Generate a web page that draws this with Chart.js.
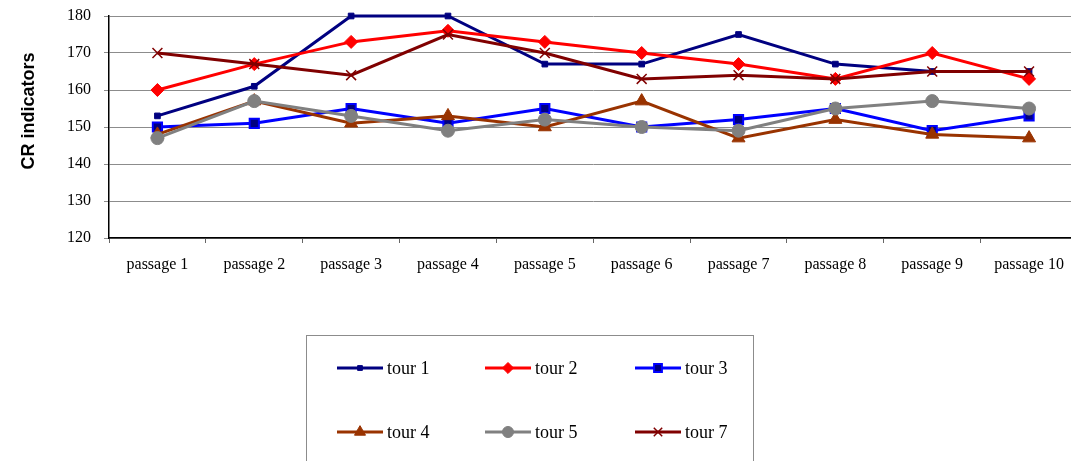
<!DOCTYPE html>
<html>
<head>
<meta charset="utf-8">
<script src="https://cdn.jsdelivr.net/npm/chart.js@4/dist/chart.umd.min.js"></script>
<style>
  html, body { margin: 0; padding: 0; background: #fff; overflow: hidden; }
  canvas { display: block; }
</style>
</head>
<body>
<canvas id="chart" width="1086" height="461"></canvas>
<script>
const passages = ['passage 1', 'passage 2', 'passage 3', 'passage 4', 'passage 5',
                  'passage 6', 'passage 7', 'passage 8', 'passage 9', 'passage 10'];

const tour1 = [153, 161, 180, 180, 167, 167, 175, 167, 165, 165];
const tour2 = [160, 167, 173, 176, 173, 170, 167, 163, 170, 163];
const tour3 = [150, 151, 155, 151, 155, 150, 152, 155, 149, 153];
const tour4 = [148, 157, 151, 153, 150, 157, 147, 152, 148, 147];
const tour5 = [147, 157, 153, 149, 152, 150, 149, 155, 157, 155];
const tour7 = [170, 167, 164, 175, 170, 163, 164, 163, 165, 165];

const yTitle = 'CR indicators';

function series(label, data, color, style, radius, fill, order) {
    return {
        label: label,
        data: data,
        borderColor: color,
        borderWidth: 3,
        pointStyle: style,
        pointRadius: radius,
        pointHoverRadius: radius,
        pointBackgroundColor: fill || color,
        pointBorderColor: color,
        pointBorderWidth: style === 'crossRot' ? 1.5 : 1,
        tension: 0,
        clip: false,
        order: order
    };
}

const datasets = [
    series('tour 1', tour1, '#000080', 'rect', 4, null, 6),
    series('tour 2', tour2, '#ff0000', 'rectRot', 6.5, null, 5),
    series('tour 3', tour3, '#0000ff', 'rect', 6.5, '#000080', 4),
    series('tour 4', tour4, '#993300', 'triangle', 7.5, null, 3),
    series('tour 5', tour5, '#808080', 'circle', 6.5, null, 2),
    series('tour 7', tour7, '#800000', 'crossRot', 7, null, 1)
];
datasets[2].pointBorderWidth = 2;

// y title and boxed legend, Excel style
const extras = {
    id: 'extras',
    afterDraw(chart) {
        const ctx = chart.ctx;
        ctx.save();
        ctx.fillStyle = '#000';
        ctx.font = 'bold 18px "Liberation Sans", Arial, sans-serif';
        ctx.textAlign = 'center';
        ctx.textBaseline = 'middle';
        ctx.translate(29, 111);
        ctx.rotate(-Math.PI / 2);
        ctx.fillText(yTitle, 0, 0);
        ctx.restore();

        ctx.save();
        ctx.strokeStyle = '#8c8c8c';
        ctx.lineWidth = 1;
        ctx.strokeRect(306.5, 335.5, 447, 140);

        const cols = [337, 485, 635];
        const rows = [368, 432];
        ctx.font = '18px "Liberation Serif", "Times New Roman", serif';
        ctx.textBaseline = 'middle';
        ctx.textAlign = 'left';
        chart.data.datasets.forEach((ds, i) => {
            const x = cols[i % 3];
            const y = rows[Math.floor(i / 3)];
            ctx.strokeStyle = ds.borderColor;
            ctx.lineWidth = 3;
            ctx.beginPath();
            ctx.moveTo(x, y);
            ctx.lineTo(x + 46, y);
            ctx.stroke();
            ctx.fillStyle = ds.pointBackgroundColor;
            ctx.strokeStyle = ds.pointBorderColor;
            ctx.lineWidth = ds.pointBorderWidth;
            Chart.helpers.drawPoint(ctx, {
                pointStyle: ds.pointStyle,
                radius: ds.pointRadius * 0.85,
                rotation: 0,
                borderWidth: ds.pointBorderWidth
            }, x + 23, y);
            ctx.fillStyle = '#000';
            ctx.fillText(ds.label, x + 50, y + 1);
        });
        ctx.restore();
    }
};

new Chart(document.getElementById('chart').getContext('2d'), {
    type: 'line',
    data: {
        labels: passages,
        datasets: datasets
    },
    options: {
        responsive: false,
        animation: false,
        layout: { padding: { top: 16, right: 1, left: 0, bottom: 0 } },
        plugins: {
            legend: { display: false },
            tooltip: { enabled: false }
        },
        scales: {
            x: {
                offset: true,
                afterFit: s => { s.height = 223; },
                grid: {
                    offset: true,
                    drawOnChartArea: false,
                    color: '#666',
                    tickLength: 5
                },
                border: { color: '#000', width: 1.5 },
                ticks: {
                    color: '#000',
                    padding: 12,
                    maxRotation: 0,
                    font: { family: '"Liberation Serif", "Times New Roman", serif', size: 16 }
                }
            },
            y: {
                min: 120,
                max: 180,
                afterFit: s => { s.width = 109; s.paddingTop = 0; s.paddingBottom = 0; },
                grid: {
                    color: '#8c8c8c',
                    lineWidth: 1,
                    tickLength: 5
                },
                border: { color: '#000', width: 1.5 },
                ticks: {
                    stepSize: 10,
                    color: '#000',
                    padding: 13,
                    font: { family: '"Liberation Serif", "Times New Roman", serif', size: 16 }
                }
            }
        }
    },
    plugins: [extras]
});
</script>
</body>
</html>
